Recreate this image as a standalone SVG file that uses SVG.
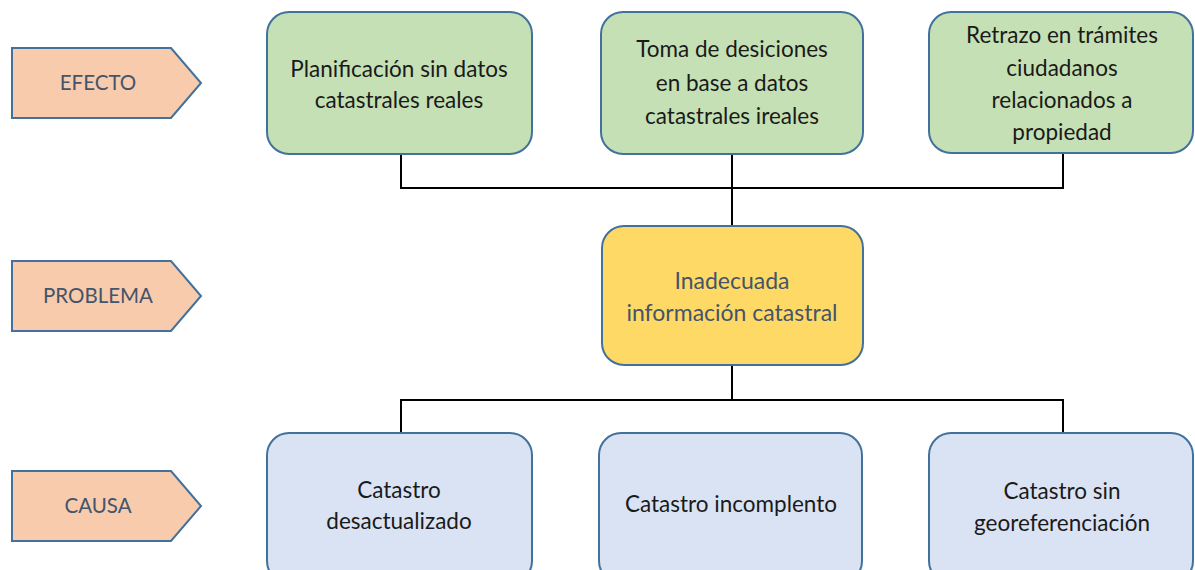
<svg xmlns="http://www.w3.org/2000/svg" width="1195" height="570" viewBox="0 0 1195 570">
<style>
.lab{fill:#F8CBAD;stroke:#41719C;stroke-width:2}
.box{stroke:#41719C;stroke-width:2}
.eff{fill:#C5E0B4}
.prob{fill:#FFD966}
.cau{fill:#DAE3F3}
text{font-family:Lato,"Liberation Sans",sans-serif;font-size:22.5px;text-anchor:middle}
.lt{font-size:20.5px}
.dark{fill:#1a1a1a}
.gray{fill:#44546A}
.conn{fill:none;stroke:#000;stroke-width:2}
</style>
<rect width="1195" height="570" fill="#fff"/>
<g id="label-efecto">
<polygon class="lab" points="12,48 171,48 201,83 171,118 12,118"/>
<text class="gray lt" x="98" y="90">EFECTO</text>
</g>
<g id="label-problema">
<polygon class="lab" points="12,261 171,261 201,296 171,331 12,331"/>
<text class="gray lt" x="98" y="303">PROBLEMA</text>
</g>
<g id="label-causa">
<polygon class="lab" points="12,471 171,471 201,506 171,541 12,541"/>
<text class="gray lt" x="98" y="513">CAUSA</text>
</g>
<g id="connectors">
<path class="conn" d="M401,154 V188 H1063 V153 M732,154 V226"/>
<path class="conn" d="M732,365 V400 M401,433 V400 H1063 V433"/>
</g>
<g id="effect1">
<rect class="box eff" x="267" y="12" width="265" height="142" rx="22"/>
<text class="dark" x="399" y="77">Planificación sin datos</text>
<text class="dark" x="399" y="108">catastrales reales</text>
</g>
<g id="effect2">
<rect class="box eff" x="601" y="12" width="262" height="142" rx="22"/>
<text class="dark" x="732" y="57">Toma de desiciones</text>
<text class="dark" x="732" y="91">en base a datos</text>
<text class="dark" x="732" y="124">catastrales ireales</text>
</g>
<g id="effect3">
<rect class="box eff" x="929" y="12" width="264" height="141" rx="22"/>
<text class="dark" x="1062" y="43">Retrazo en trámites</text>
<text class="dark" x="1062" y="76">ciudadanos</text>
<text class="dark" x="1062" y="108">relacionados a</text>
<text class="dark" x="1062" y="140">propiedad</text>
</g>
<g id="problem">
<rect class="box prob" x="602" y="226" width="261" height="139" rx="22"/>
<text class="gray" x="732" y="289" style="font-size:23px">Inadecuada</text>
<text class="gray" x="732" y="321" style="font-size:23px">información catastral</text>
</g>
<g id="cause1">
<rect class="box cau" x="267" y="433" width="265" height="150" rx="22"/>
<text class="dark" x="399" y="498">Catastro</text>
<text class="dark" x="399" y="529">desactualizado</text>
</g>
<g id="cause2">
<rect class="box cau" x="599" y="433" width="263" height="150" rx="22"/>
<text class="dark" x="731" y="512">Catastro incomplento</text>
</g>
<g id="cause3">
<rect class="box cau" x="929" y="433" width="264" height="150" rx="22"/>
<text class="dark" x="1062" y="499">Catastro sin</text>
<text class="dark" x="1062" y="531">georeferenciación</text>
</g>
</svg>
